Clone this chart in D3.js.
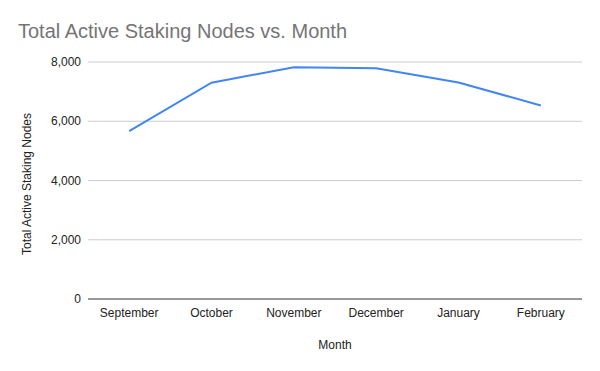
<!DOCTYPE html>
<html>
<head>
<meta charset="utf-8">
<script src="https://cdn.jsdelivr.net/npm/d3@7"></script>
<style>
  body { margin: 0; background: #fff; }
  text { font-family: Arial, "Liberation Sans", sans-serif; }
</style>
</head>
<body>
<script>
// data
let months = ["September", "October", "November", "December", "January", "February"];
let nodes = [5670, 7300, 7825, 7790, 7310, 6530];
let yTicks = [0, 2000, 4000, 6000, 8000];

let width = 600, height = 371;
let margin = {top: 62, right: 18, bottom: 72, left: 88};

let svg = d3.select("body").append("svg")
    .attr("width", width)
    .attr("height", height);

svg.append("rect").attr("width", width).attr("height", height).attr("fill", "#fff");

let x = d3.scaleBand()
    .domain(months)
    .range([margin.left, width - margin.right]);

let y = d3.scaleLinear()
    .domain([0, 8000])
    .range([height - margin.bottom, margin.top]);

// title
svg.append("text")
    .attr("x", 18)
    .attr("y", 38)
    .attr("fill", "#757575")
    .attr("font-size", 20)
    .text("Total Active Staking Nodes vs. Month");

// gridlines
svg.append("g")
    .selectAll("line")
    .data(yTicks.filter(d => d > 0))
    .join("line")
    .attr("x1", margin.left)
    .attr("x2", width - margin.right)
    .attr("y1", d => y(d))
    .attr("y2", d => y(d))
    .attr("stroke", "#cccccc")
    .attr("stroke-width", 1);

// y tick labels
svg.append("g")
    .selectAll("text")
    .data(yTicks)
    .join("text")
    .attr("x", margin.left - 7)
    .attr("y", d => y(d))
    .attr("dy", "0.35em")
    .attr("text-anchor", "end")
    .attr("font-size", 12)
    .attr("fill", "#222")
    .text(d => d3.format(",")(d));

// baseline
svg.append("line")
    .attr("x1", margin.left)
    .attr("x2", width - margin.right)
    .attr("y1", y(0))
    .attr("y2", y(0))
    .attr("stroke", "#333")
    .attr("stroke-width", 1);

// x labels
svg.append("g")
    .selectAll("text")
    .data(months)
    .join("text")
    .attr("x", d => x(d) + x.bandwidth() / 2)
    .attr("y", y(0) + 18)
    .attr("text-anchor", "middle")
    .attr("font-size", 12)
    .attr("fill", "#222")
    .text(d => d);

// axis titles
svg.append("text")
    .attr("x", (margin.left + width - margin.right) / 2)
    .attr("y", 349)
    .attr("text-anchor", "middle")
    .attr("font-size", 12)
    .attr("fill", "#222")
    .text("Month");

svg.append("text")
    .attr("transform", "translate(31,184) rotate(-90)")
    .attr("text-anchor", "middle")
    .attr("font-size", 12)
    .attr("fill", "#222")
    .text("Total Active Staking Nodes");

// line
let line = d3.line()
    .x((d, i) => x(months[i]) + x.bandwidth() / 2)
    .y(d => y(d));

svg.append("path")
    .datum(nodes)
    .attr("d", line)
    .attr("fill", "none")
    .attr("stroke", "#4285f4")
    .attr("stroke-width", 2);
</script>
</body>
</html>
